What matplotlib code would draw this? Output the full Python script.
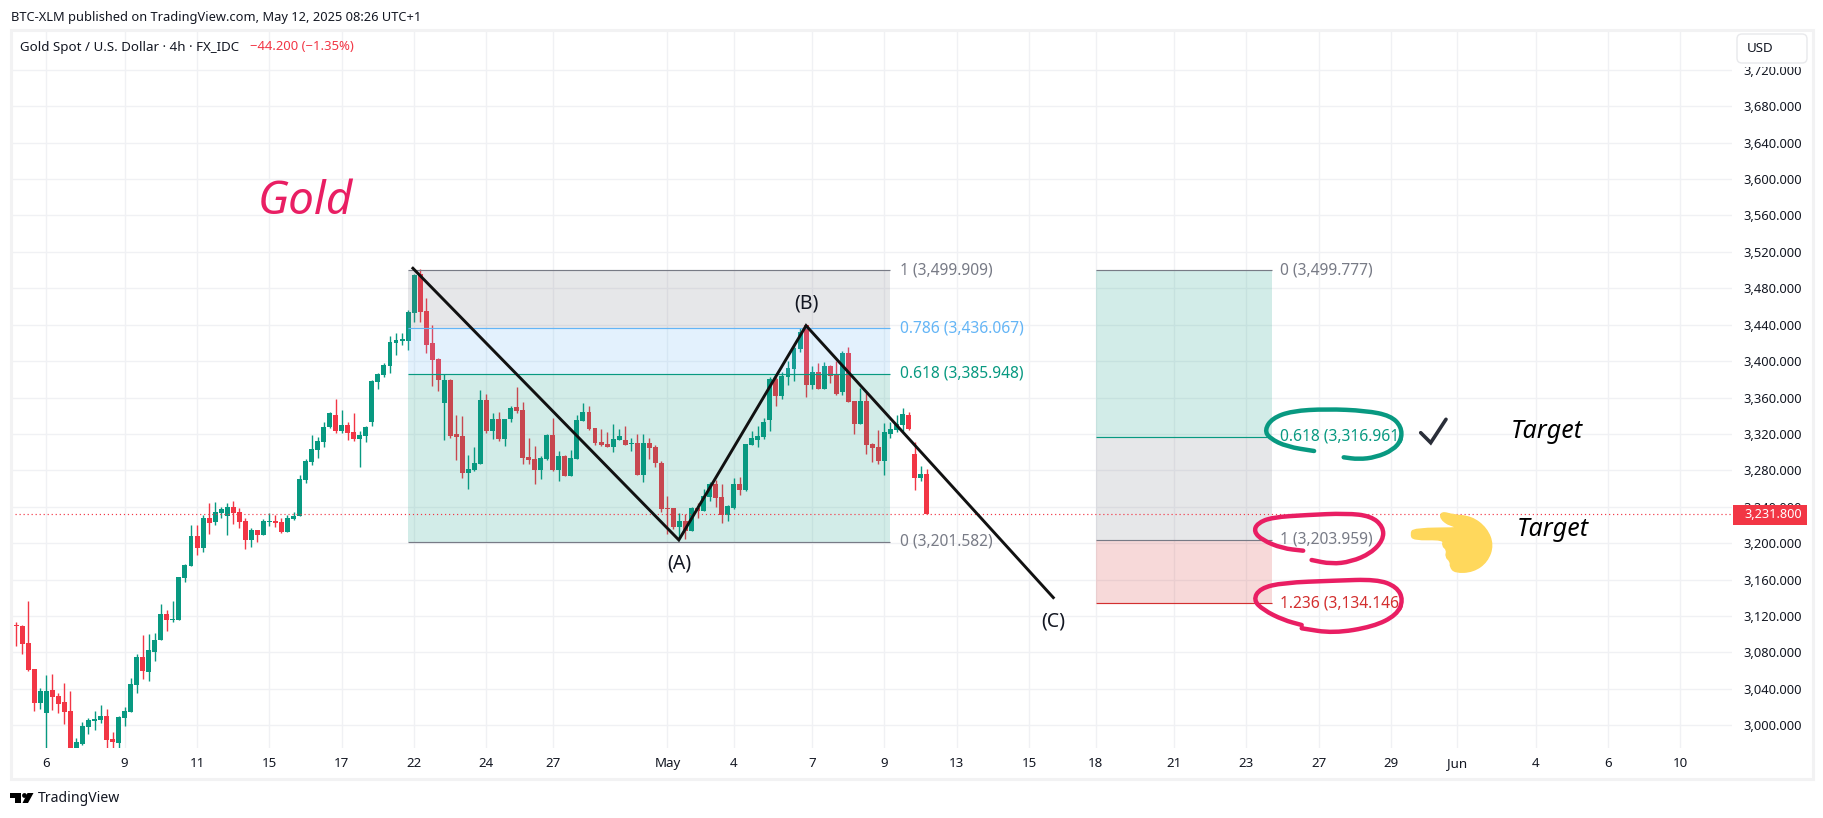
import numpy as np
import matplotlib
matplotlib.use('Agg')
import matplotlib.pyplot as plt
from matplotlib.patches import Rectangle, PathPatch, Circle, Polygon, FancyBboxPatch
from matplotlib.path import Path

plt.rcParams['font.family'] = 'Noto Sans'

# 4h candles, first one is clipped by the left edge
first_candle = -6
opens = [3115.0, 3110.2, 3109.1, 3090.5, 3061.9, 3024.6, 3013.6, 3038.8, 3032.3, 3025.7, 3015.8, 2975.5, 2979.5, 2998.2, 3004.8, 3005.9, 3010.3, 2985.0, 2980.6, 3008.1, 3014.7, 3044.3, 3075.1, 3058.6, 3080.6, 3093.8, 3122.3, 3115.7, 3115.7, 3161.9, 3175.0, 3208.0, 3194.8, 3227.8, 3223.4, 3233.2, 3230.0, 3239.8, 3234.3, 3224.5, 3203.6, 3214.6, 3209.1, 3223.4, 3224.5, 3223.4, 3212.4, 3226.7, 3230.0, 3269.5, 3289.3, 3302.4, 3311.2, 3327.7, 3340.9, 3323.3, 3329.9, 3322.2, 3314.5, 3317.8, 3333.2, 3377.1, 3384.8, 3394.7, 3420.0, 3422.2, 3422.2, 3452.9, 3495.7, 3455.1, 3420.0, 3402.4, 3354.1, 3379.3, 3320.0, 3317.8, 3277.5, 3280.5, 3287.1, 3357.4, 3323.3, 3336.5, 3314.5, 3336.5, 3349.7, 3346.4, 3294.8, 3292.6, 3280.5, 3292.6, 3318.9, 3280.5, 3295.9, 3273.9, 3292.6, 3334.3, 3344.2, 3326.6, 3311.2, 3309.0, 3305.7, 3313.4, 3313.4, 3309.0, 3310.1, 3275.0, 3310.1, 3305.7, 3288.2, 3238.7, 3238.7, 3217.9, 3224.5, 3213.5, 3238.7, 3235.4, 3250.8, 3265.1, 3250.8, 3231.0, 3238.7, 3265.1, 3258.5, 3307.9, 3313.4, 3316.7, 3335.4, 3380.4, 3361.7, 3382.6, 3391.4, 3413.4, 3439.7, 3373.8, 3388.1, 3369.4, 3394.7, 3384.8, 3366.1, 3409.0, 3356.3, 3331.0, 3356.3, 3309.0, 3305.7, 3290.4, 3320.0, 3324.4, 3329.9, 3340.9, 3298.0, 3271.7, 3276.1]
highs = [3115.0, 3113.5, 3110.2, 3136.6, 3061.9, 3041.0, 3055.3, 3056.4, 3035.6, 3046.5, 3037.8, 2986.1, 3003.7, 3008.1, 3015.8, 3022.4, 3018.0, 2992.7, 3010.3, 3020.2, 3052.0, 3078.4, 3099.3, 3100.4, 3101.5, 3133.3, 3126.7, 3136.6, 3163.0, 3177.2, 3220.1, 3220.1, 3231.1, 3244.2, 3245.3, 3239.8, 3244.2, 3246.4, 3238.7, 3227.8, 3216.8, 3214.6, 3226.7, 3233.2, 3231.1, 3227.8, 3231.1, 3234.3, 3275.0, 3292.6, 3318.9, 3316.7, 3333.2, 3344.2, 3358.5, 3346.4, 3333.2, 3343.1, 3323.3, 3328.8, 3379.3, 3387.0, 3398.0, 3427.6, 3431.0, 3431.0, 3456.2, 3495.7, 3501.2, 3469.4, 3439.7, 3403.5, 3386.0, 3380.4, 3340.9, 3339.8, 3297.0, 3306.1, 3368.3, 3364.0, 3343.1, 3344.2, 3336.5, 3350.8, 3371.6, 3355.2, 3315.6, 3306.8, 3295.9, 3320.0, 3337.6, 3301.3, 3297.0, 3302.4, 3340.9, 3354.1, 3350.8, 3326.6, 3325.5, 3322.2, 3331.0, 3325.5, 3328.8, 3315.6, 3319.6, 3320.0, 3315.6, 3307.9, 3290.4, 3251.9, 3238.7, 3233.2, 3232.1, 3239.8, 3244.2, 3259.6, 3267.3, 3269.5, 3265.1, 3242.0, 3271.7, 3272.8, 3309.0, 3323.3, 3328.8, 3337.6, 3382.6, 3382.6, 3388.1, 3400.2, 3417.8, 3436.4, 3439.7, 3394.7, 3398.0, 3399.1, 3395.8, 3400.2, 3411.2, 3415.6, 3356.3, 3370.5, 3365.0, 3310.1, 3324.4, 3332.1, 3333.2, 3340.9, 3348.6, 3344.2, 3311.2, 3284.9, 3281.6]
lows = [3109.1, 3087.2, 3078.4, 3059.7, 3015.8, 3018.0, 2974.8, 3016.9, 3013.6, 3001.5, 2970.0, 2970.0, 2978.4, 2990.5, 2994.9, 3002.6, 2974.8, 2975.0, 2975.0, 2999.3, 3014.7, 3035.6, 3050.9, 3048.7, 3070.7, 3093.8, 3103.6, 3113.5, 3115.7, 3157.5, 3175.0, 3187.1, 3190.4, 3210.2, 3220.1, 3227.8, 3209.1, 3221.2, 3216.8, 3193.7, 3195.9, 3201.4, 3209.1, 3219.0, 3217.9, 3211.3, 3212.4, 3225.6, 3230.0, 3266.2, 3286.0, 3293.7, 3305.7, 3326.6, 3321.1, 3321.1, 3313.4, 3312.3, 3283.8, 3311.2, 3328.8, 3369.4, 3382.6, 3387.0, 3406.8, 3417.8, 3412.3, 3443.0, 3443.0, 3409.0, 3372.7, 3367.2, 3313.4, 3315.6, 3291.5, 3271.7, 3259.6, 3279.4, 3287.1, 3321.1, 3314.5, 3312.3, 3306.8, 3333.2, 3343.1, 3287.1, 3287.1, 3265.1, 3270.6, 3291.5, 3279.4, 3268.4, 3273.9, 3273.9, 3292.6, 3334.3, 3324.4, 3307.9, 3306.8, 3305.7, 3300.2, 3313.4, 3307.9, 3301.3, 3275.0, 3267.3, 3292.6, 3283.8, 3234.3, 3210.2, 3215.7, 3205.8, 3204.7, 3213.5, 3227.8, 3235.4, 3246.4, 3239.8, 3222.3, 3224.5, 3237.6, 3253.0, 3257.4, 3307.9, 3305.7, 3314.5, 3323.3, 3350.8, 3358.5, 3373.8, 3378.2, 3410.1, 3360.6, 3369.4, 3369.4, 3369.4, 3376.0, 3362.8, 3362.8, 3355.2, 3320.0, 3331.0, 3298.0, 3289.3, 3287.1, 3275.0, 3315.6, 3322.2, 3323.3, 3324.4, 3258.5, 3268.4, 3231.8]
closes = [3109.1, 3109.1, 3089.4, 3060.8, 3024.6, 3037.8, 3037.8, 3031.2, 3023.5, 3014.7, 2975.0, 2981.7, 2999.3, 3005.9, 3007.0, 3010.3, 2983.9, 2981.7, 3009.2, 3015.8, 3045.4, 3075.1, 3059.7, 3082.8, 3093.8, 3122.3, 3115.7, 3116.8, 3163.0, 3176.1, 3208.0, 3194.8, 3227.8, 3222.3, 3234.3, 3237.6, 3239.8, 3233.2, 3223.4, 3203.6, 3214.6, 3209.1, 3224.5, 3224.5, 3222.3, 3212.4, 3227.8, 3230.0, 3270.6, 3290.4, 3303.5, 3312.3, 3327.7, 3343.1, 3323.3, 3329.9, 3321.1, 3314.5, 3318.9, 3327.7, 3378.2, 3385.9, 3395.8, 3421.0, 3423.3, 3424.4, 3454.0, 3494.6, 3454.0, 3417.8, 3401.3, 3379.3, 3379.3, 3317.8, 3316.7, 3277.5, 3281.6, 3287.8, 3357.4, 3323.3, 3336.5, 3314.5, 3336.5, 3348.6, 3345.3, 3293.7, 3291.5, 3280.5, 3293.7, 3318.9, 3280.5, 3295.9, 3273.9, 3293.7, 3335.4, 3344.2, 3325.5, 3310.1, 3307.9, 3305.7, 3314.5, 3317.8, 3307.9, 3310.1, 3275.0, 3310.1, 3304.6, 3288.2, 3237.6, 3237.6, 3217.9, 3224.5, 3213.5, 3238.7, 3235.4, 3251.9, 3265.1, 3249.7, 3231.0, 3240.9, 3265.1, 3258.5, 3309.0, 3315.6, 3317.8, 3333.2, 3380.4, 3361.7, 3383.7, 3392.5, 3414.5, 3432.0, 3373.8, 3388.1, 3369.4, 3394.7, 3383.7, 3363.9, 3409.0, 3355.2, 3331.0, 3356.3, 3307.9, 3304.6, 3290.4, 3322.2, 3325.5, 3331.0, 3342.0, 3325.5, 3271.7, 3276.1, 3231.8]
last_price = 3231.8

# time axis, positions counted in candles from the "6" tick
tick_pos = [0, 13, 25, 37, 49, 61, 73, 84, 103, 114, 127, 139, 151, 163, 174, 187, 199, 211, 223, 234, 247, 259, 271]
tick_labels = ['6', '9', '11', '15', '17', '22', '24', '27', 'May', '4', '7', '9', '13', '15', '18', '21', '23', '27', '29', 'Jun', '4', '6', '10']
price_ticks = list(range(3000, 3721, 40))

# retracement drawn on the waves
fib1_levels = [1, 0.786, 0.618, 0]
fib1_prices = [3499.909, 3436.067, 3385.948, 3201.582]
fib1_span = [60, 140]
# extension drawn on the right
fib2_levels = [0, 0.618, 1, 1.236]
fib2_prices = [3499.777, 3316.961, 3203.959, 3134.146]
fib2_span = [174.1, 203.2]

# hand drawn ABC wave
wave_x = [60.8, 104.9, 126.0, 167.0]
wave_y = [3502.0, 3203.6, 3439.0, 3140.3]

GREEN = '#089981'
RED = '#f23645'
GREY = '#787b86'
BLUE = '#64b5f6'
DARK_RED = '#d32f2f'
PINK = '#e91e63'
TEXT = '#131722'
GRID = '#f0f1f4'

fig = plt.figure(figsize=(18.24, 8.18), dpi=100)
ax = fig.add_axes([11 / 1824, (818 - 748) / 818, (1732 - 11) / 1824, (748 - 30) / 818])
ax.set_xlim(-5.85, 279.55)
ax.set_ylim(2975.1, 3763.7)
for s in ax.spines.values():
    s.set_visible(False)

# grid and axis ticks
ax.set_axisbelow(True)
ax.grid(True, color=GRID, lw=1)
ax.set_xticks(tick_pos)
ax.set_xticklabels(tick_labels)
ax.set_yticks(price_ticks)
ax.set_yticklabels([f'{p:,.3f}' for p in price_ticks])
ax.yaxis.tick_right()
ax.tick_params(axis='y', length=0, pad=8, labelsize=9.3, labelcolor=TEXT)
ax.tick_params(axis='x', length=0, pad=6.5, labelsize=9.6, labelcolor=TEXT)
for lab in ax.get_xticklabels():
    if lab.get_text() in ('May', 'Jun'):
        lab.set_fontweight('bold')

# candles
xs = np.arange(first_candle, first_candle + len(opens))
o, h, l, c = map(np.array, (opens, highs, lows, closes))
colors = [GREEN if b >= a else RED for a, b in zip(o, c)]
ax.vlines(xs, l, h, colors=colors, lw=1.0, zorder=2)
ax.bar(xs, np.abs(c - o), bottom=np.minimum(o, c), width=0.82, color=colors, zorder=2.1)

# fib zones sit over the candles, that's why they look washed out
def fib_zone(prices, span, fills, lines):
    for i in range(len(prices) - 1):
        ax.fill_between(span, prices[i], prices[i + 1], color=fills[i], alpha=0.18, lw=0, zorder=3)
    for p, col in zip(prices, lines):
        ax.plot(span, [p, p], color=col, lw=0.85, zorder=3.5, solid_capstyle='butt')

fib_zone(fib1_prices, fib1_span, [GREY, BLUE, GREEN], [GREY, BLUE, GREEN, GREY])
fib_zone(fib2_prices, fib2_span, [GREEN, GREY, DARK_RED], [GREY, GREEN, GREY, DARK_RED])

for lev, p, col in zip(fib1_levels, fib1_prices, [GREY, BLUE, GREEN, GREY]):
    ax.text(141.6, p, f'{lev} ({p:,.3f})', color=col, fontsize=11.2, va='center', zorder=5)
for lev, p, col in zip(fib2_levels, fib2_prices, [GREY, GREEN, GREY, DARK_RED]):
    ax.text(204.6, p, f'{lev} ({p:,.3f})', color=col, fontsize=11.2, va='center', zorder=5)

ax.axhline(last_price, color=RED, lw=0.85, ls=(0, (1, 2.4)), zorder=3.6)
ax.plot(wave_x, wave_y, color='#111111', lw=2.1, zorder=4, solid_joinstyle='miter')

# overlay in image pixels for the page furniture and the ink scribbles
ov = fig.add_axes([0, 0, 1, 1], zorder=10)
ov.set_xlim(0, 1824)
ov.set_ylim(818, 0)
ov.axis('off')


def ink(points, color, lw=3.2):
    # smooth freehand stroke through midpoints
    pts = np.array(points, dtype=float)
    verts = [pts[0], (pts[0] + pts[1]) / 2]
    codes = [Path.MOVETO, Path.LINETO]
    for i in range(1, len(pts) - 1):
        verts += [pts[i], (pts[i] + pts[i + 1]) / 2]
        codes += [Path.CURVE3, Path.CURVE3]
    verts.append(pts[-1])
    codes.append(Path.LINETO)
    ov.add_patch(PathPatch(Path(verts, codes), fill=False, edgecolor=color, lw=lw, capstyle='round'))


def blob(points, color):
    # filled closed shape with rounded corners
    pts = np.array(points, dtype=float)
    n = len(pts)
    verts = [(pts[-1] + pts[0]) / 2]
    codes = [Path.MOVETO]
    for i in range(n):
        verts += [pts[i], (pts[i] + pts[(i + 1) % n]) / 2]
        codes += [Path.CURVE3, Path.CURVE3]
    ov.add_patch(PathPatch(Path(verts, codes), facecolor=color, edgecolor=color, lw=1))


ov.add_patch(Rectangle((11, 30), 1802, 749, fill=False, edgecolor='#f2f2f3', lw=2.2))

# header and legend
ov.text(11, 17, 'BTC-XLM published on TradingView.com, May 12, 2025 08:26 UTC+1', fontsize=9.25, color=TEXT, va='center')
ov.text(20, 47, 'Gold Spot / U.S. Dollar · 4h · FX_IDC', fontsize=9.6, color=TEXT, va='center')
ov.text(250, 47, '−44.200 (−1.35%)', fontsize=9.4, color=RED, va='center')
ov.text(258, 202, 'Gold', fontsize=33, color=PINK, style='italic', va='center')

# USD box hides the top tick, price tag hides the 3,240 one
ov.add_patch(Rectangle((1736, 32), 74, 34.5, facecolor='white', edgecolor='none'))
ov.add_patch(FancyBboxPatch((1739, 36), 66, 25, boxstyle='round,pad=2,rounding_size=5', facecolor='white', edgecolor='#e8e9ec', lw=1))
ov.text(1747, 48.5, 'USD', fontsize=9.6, color=TEXT, va='center')
ov.add_patch(Rectangle((1733, 505), 74, 20, facecolor=RED, edgecolor='none'))
ov.text(1773, 514.5, f'{last_price:,.3f}', fontsize=9.2, color='white', fontweight='bold', ha='center', va='center')

# wave labels
ov.text(679.6, 564, '(A)', fontsize=14, color=TEXT, ha='center', va='center')
ov.text(806, 303, '(B)', fontsize=14, color=TEXT, ha='center', va='center')
ov.text(1053, 622, '(C)', fontsize=14, color=TEXT, ha='center', va='center')

ov.text(1546.5, 431, 'Target', fontsize=18, color='black', style='italic', ha='center', va='center')
ov.text(1552.5, 530, 'Target', fontsize=18, color='black', style='italic', ha='center', va='center')

# circles around the targets
ink([(1314.1, 451), (1286.9, 446.7), (1269.6, 438.3), (1264.7, 430), (1272.1, 418.3), (1291.9, 411), (1326.4, 409), (1365.9, 410.7), (1390.6, 415.7), (1401.4, 426.7), (1401.4, 440), (1393, 450), (1375.8, 457.3), (1358.5, 459.3), (1343.7, 457.3)], GREEN)
ink([(1303.2, 550.7), (1282, 548.3), (1262.2, 540), (1253.9, 531.7), (1257.3, 523.3), (1272.1, 517.3), (1306.7, 515), (1346.2, 513.3), (1370.8, 516), (1383.2, 526.7), (1383.2, 540), (1370.8, 553.3), (1351.1, 561.7), (1331.3, 564), (1311.6, 560)], PINK)
ink([(1301.7, 625), (1283.3, 620), (1263.3, 610), (1253.3, 600), (1260, 588.3), (1283.3, 582.7), (1333.3, 580.7), (1376.7, 579.3), (1396.7, 586.7), (1403.3, 600), (1396.7, 615), (1373.3, 626.7), (1333.3, 633.3), (1301.7, 628.3)], PINK)

# check mark
ov.plot([1420.7, 1430.7, 1446], [432.7, 442.7, 419.3], color='#2a2e39', lw=2.6, solid_capstyle='round', solid_joinstyle='miter')

# pointing hand
blob([(1441.7, 511.7), (1453.3, 515), (1471.7, 516.7), (1486.7, 528.3), (1493.3, 545), (1487.3, 561.7), (1473.3, 571.7), (1455, 572.7), (1450, 566.7), (1450.7, 561.7), (1445.3, 556.7), (1447.3, 550), (1442, 545.7), (1444, 539.3), (1413.3, 540), (1410.7, 534.3), (1413.3, 528.3), (1465, 528), (1450, 526), (1440, 518.3)], '#ffd85c')

# TradingView mark
ov.add_patch(Polygon([(10, 793), (21, 793), (21, 803), (15, 803), (15, 798), (10, 798)], closed=True, facecolor='black', edgecolor='none'))
ov.add_patch(Circle((24.5, 795.5), 2.4, facecolor='black', edgecolor='none'))
ov.add_patch(Polygon([(27.5, 793), (33.5, 793), (28, 803), (22.5, 803)], closed=True, facecolor='black', edgecolor='none'))
ov.text(38, 798.5, 'TradingView', fontsize=10.1, color=TEXT, va='center')

fig.savefig('out.png', dpi=100)
